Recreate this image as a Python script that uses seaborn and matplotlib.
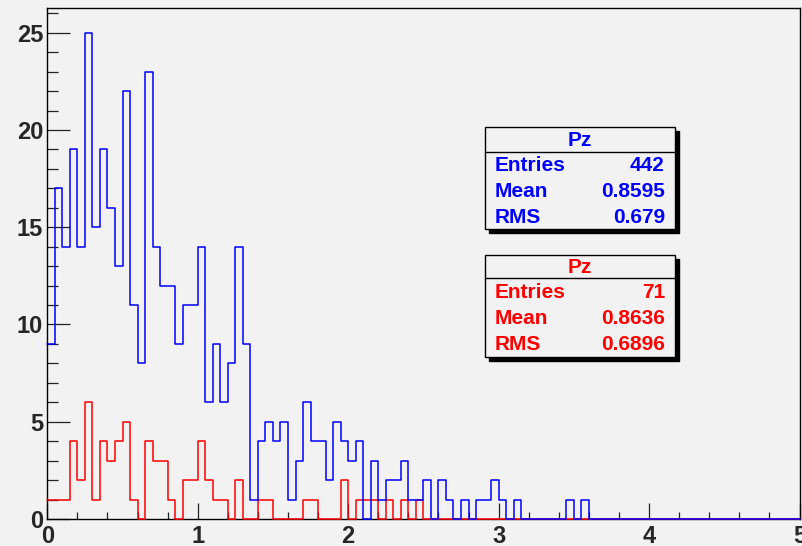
import numpy as np
import pandas as pd
import seaborn as sns
import matplotlib.pyplot as plt
from matplotlib.patches import Rectangle
from matplotlib.ticker import MultipleLocator

# bin counts, 100 bins of width 0.05 from 0 to 5
blue_counts = [9, 17, 14, 19, 14, 25, 15, 19, 16, 13,
               22, 11, 8, 23, 14, 12, 12, 9, 11, 11,
               14, 6, 9, 6, 8, 14, 9, 1, 4, 5,
               4, 5, 1, 3, 6, 4, 4, 2, 5, 4,
               3, 4, 0, 3, 1, 2, 2, 3, 1, 1,
               2, 0, 2, 1, 0, 1, 0, 1, 1, 2,
               1, 0, 1, 0, 0, 0, 0, 0, 0, 1,
               0, 1] + [0] * 28
red_counts = [1, 1, 1, 4, 2, 6, 1, 4, 3, 4,
              5, 1, 0, 4, 3, 3, 1, 0, 2, 2,
              4, 2, 1, 1, 0, 2, 0, 0, 1, 1,
              0, 0, 0, 0, 1, 1, 0, 0, 0, 2,
              0, 1, 1, 1, 0, 1, 0, 1, 0, 1] + [0] * 50

blue_stats = ["Pz", "Entries", "442", "Mean", "0.8595", "RMS", "0.679"]
red_stats = ["Pz", "Entries", "71", "Mean", "0.8636", "RMS", "0.6896"]

x_range = (0, 5)
n_bins = 100

sns.set_style("ticks")
plt.rcParams['font.family'] = ['Liberation Sans', 'DejaVu Sans']
plt.rcParams['font.weight'] = 'bold'

BG = '#f2f2f2'
W, H = 803, 546

edges = np.linspace(x_range[0], x_range[1], n_bins + 1)
centers = (edges[:-1] + edges[1:]) / 2
df = pd.DataFrame({'Pz': np.concatenate([centers, centers]),
                   'n': blue_counts + red_counts,
                   'hist': ['blue'] * n_bins + ['red'] * n_bins})

fig = plt.figure(figsize=(W / 100, H / 100), dpi=100, facecolor=BG)
ax = fig.add_axes([47.3 / W, 27 / H, 752.2 / W, 510.6 / H], facecolor=BG)

# red first, blue drawn on top of it like ROOT's "same"
for name, col in [('red', '#ff0000'), ('blue', '#0000ff')]:
    sub = df[df['hist'] == name]
    sns.histplot(data=sub, x='Pz', weights='n', bins=n_bins, binrange=x_range,
                 element='step', fill=False, color=col, linewidth=1.1,
                 ax=ax, zorder=4, clip_on=False)

ax.set_xlim(*x_range)
ax.set_ylim(0, 26.25)
ax.set_xlabel('')
ax.set_ylabel('')

for s in ax.spines.values():
    s.set_linewidth(1.0)
    s.set_color('black')

ax.xaxis.set_major_locator(MultipleLocator(1))
ax.xaxis.set_minor_locator(MultipleLocator(0.2))
ax.yaxis.set_major_locator(MultipleLocator(5))
ax.yaxis.set_minor_locator(MultipleLocator(1))
ax.tick_params(axis='both', which='both', direction='in', color='#222222',
               width=0.9, labelsize=17)
ax.tick_params(axis='x', which='major', length=11.5, pad=4)
ax.tick_params(axis='x', which='minor', length=5)
ax.tick_params(axis='y', which='major', length=16.5, pad=3)
ax.tick_params(axis='y', which='minor', length=8)
for lab in ax.get_xticklabels() + ax.get_yticklabels():
    lab.set_fontweight('bold')


def px(x, y):
    return x / W, 1 - y / H


def stats_box(stats, col, top, bot, sep):
    x0, x1 = 485, 675
    sx, sy = px(x0 + 4, bot + 4)
    fig.patches.append(Rectangle((sx, sy), (x1 - x0) / W, (bot - top) / H,
                                 transform=fig.transFigure, facecolor='black',
                                 edgecolor='black', zorder=5))
    bx, by = px(x0, bot)
    fig.patches.append(Rectangle((bx, by), (x1 - x0) / W, (bot - top) / H,
                                 transform=fig.transFigure, facecolor=BG,
                                 edgecolor='black', linewidth=1.0, zorder=6))
    lx0, ly = px(x0, sep)
    lx1, _ = px(x1, sep)
    fig.add_artist(plt.Line2D([lx0, lx1], [ly, ly], transform=fig.transFigure,
                              color='black', linewidth=1.0, zorder=7))
    tx, ty = px((x0 + x1) / 2, (top + sep) / 2 + 1)
    fig.text(tx, ty, stats[0], color=col, fontsize=15, fontweight='bold',
             ha='center', va='center', zorder=8)
    row_h = (bot - sep) / 3
    for i in range(3):
        yy = sep + row_h * (i + 0.5) + 1
        fx, fy = px(495, yy)
        fig.text(fx, fy, stats[1 + 2 * i], color=col, fontsize=15,
                 fontweight='bold', ha='left', va='center', zorder=8)
        fx, fy = px(665, yy)
        fig.text(fx, fy, stats[2 + 2 * i], color=col, fontsize=15,
                 fontweight='bold', ha='right', va='center', zorder=8)


stats_box(blue_stats, '#0000ff', 127, 229, 152)
stats_box(red_stats, '#ff0000', 255, 357, 278)

fig.savefig('out.png', dpi=100, facecolor=BG)
